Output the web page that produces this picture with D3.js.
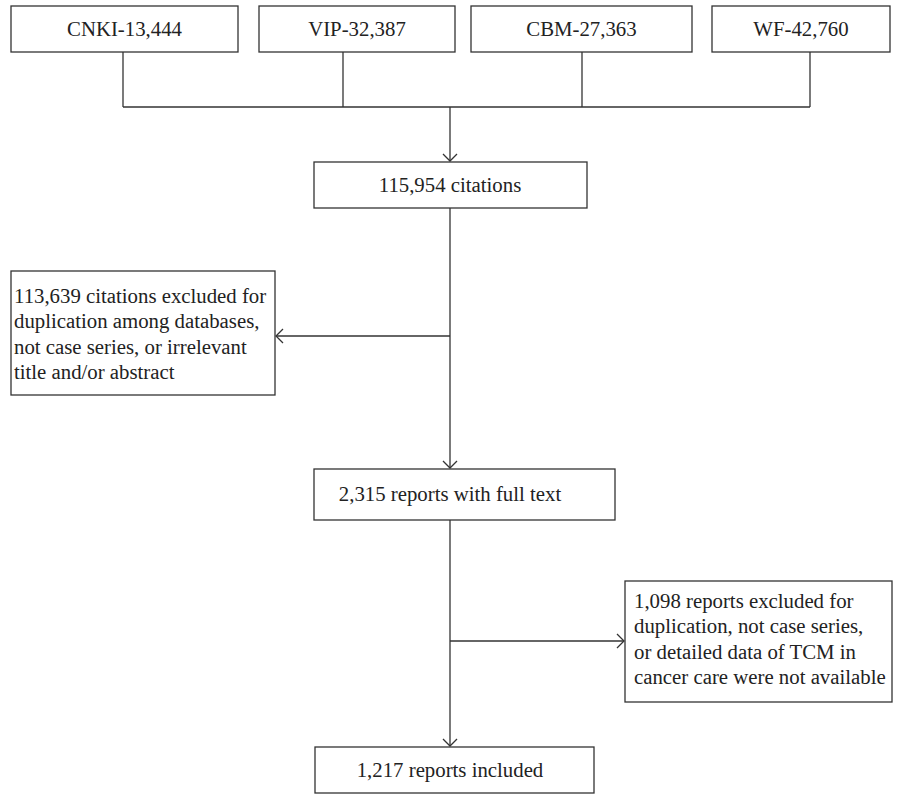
<!DOCTYPE html>
<html><head><meta charset="utf-8">
<script src="https://cdn.jsdelivr.net/npm/d3@7"></script>
<style>body{margin:0;background:#fff}svg{display:block}</style>
</head><body>
<script>
const sources = ["CNKI", "VIP", "CBM", "WF"];
const sourceCounts = ["13,444", "32,387", "27,363", "42,760"];
const mainLabels = ["115,954 citations", "2,315 reports with full text", "1,217 reports included"];
const excl1 = ["113,639 citations excluded for", "duplication among databases,", "not case series, or irrelevant", "title and/or abstract"];
const excl2 = ["1,098 reports excluded for", "duplication, not case series,", "or detailed data of TCM in", "cancer care were not available"];

const W = 897, H = 794;
const svg = d3.select("body").append("svg").attr("width", W).attr("height", H);
const stroke = "#333", sw = 1.3, fs = 20.8, font = "Liberation Serif, serif";

function box(x, y, w, h) {
  svg.append("rect").attr("x", x).attr("y", y).attr("width", w).attr("height", h)
    .attr("fill", "#fff").attr("stroke", stroke).attr("stroke-width", sw);
}
function line(pts) {
  svg.append("path").attr("d", d3.line()(pts)).attr("fill", "none")
    .attr("stroke", stroke).attr("stroke-width", sw);
}
function arrowHead(x, y, dir) {
  const s = 7, t = 5;
  let pts;
  if (dir === "down") pts = [[x - s, y - t - 2], [x, y], [x + s, y - t - 2]];
  if (dir === "left") pts = [[x + t + 2, y - s], [x, y], [x + t + 2, y + s]];
  if (dir === "right") pts = [[x - t - 2, y - s], [x, y], [x - t - 2, y + s]];
  line(pts);
}
function ctext(x, y, s) {
  svg.append("text").attr("x", x).attr("y", y).attr("text-anchor", "middle")
    .attr("font-family", font).attr("font-size", fs).attr("fill", "#222").text(s);
}
function mtext(x, y, lines, lh) {
  const t = svg.append("text").attr("font-family", font).attr("font-size", fs).attr("fill", "#222");
  lines.forEach((l, i) => t.append("tspan").attr("x", x).attr("y", y + i * lh).text(l));
}

const topY = 6, topH = 46, busY = 107, cx = 450;
const stems = [123, 343, 582, 810];
sources.forEach((s, i) => {
  const bx = [11, 259, 471, 712][i], bw = [227, 196, 221, 178][i];
  box(bx, topY, bw, topH);
  ctext(bx + bw / 2, topY + topH / 2 + 7, s + "-" + sourceCounts[i]);
  line([[stems[i], topY + topH], [stems[i], busY]]);
});
line([[stems[0], busY], [stems[3], busY]]);
line([[cx, busY], [cx, 161]]);
arrowHead(cx, 161, "down");

box(314, 162, 273, 46);
ctext(cx, 192, mainLabels[0]);
line([[cx, 208], [cx, 468]]);
arrowHead(cx, 468, "down");
line([[cx, 336], [276, 336]]);
arrowHead(276, 336, "left");

box(11, 271, 264, 124);
mtext(14, 303, excl1, 25.3);

box(314, 469, 301, 51);
ctext(cx, 501, mainLabels[1]);
line([[cx, 520], [cx, 746]]);
arrowHead(cx, 746, "down");
line([[cx, 641], [624, 641]]);
arrowHead(624, 641, "right");

box(625, 581, 267, 121);
mtext(634, 608, excl2, 25.3);

box(315, 747, 279, 46);
ctext(cx, 777, mainLabels[2]);
</script>
</body></html>
